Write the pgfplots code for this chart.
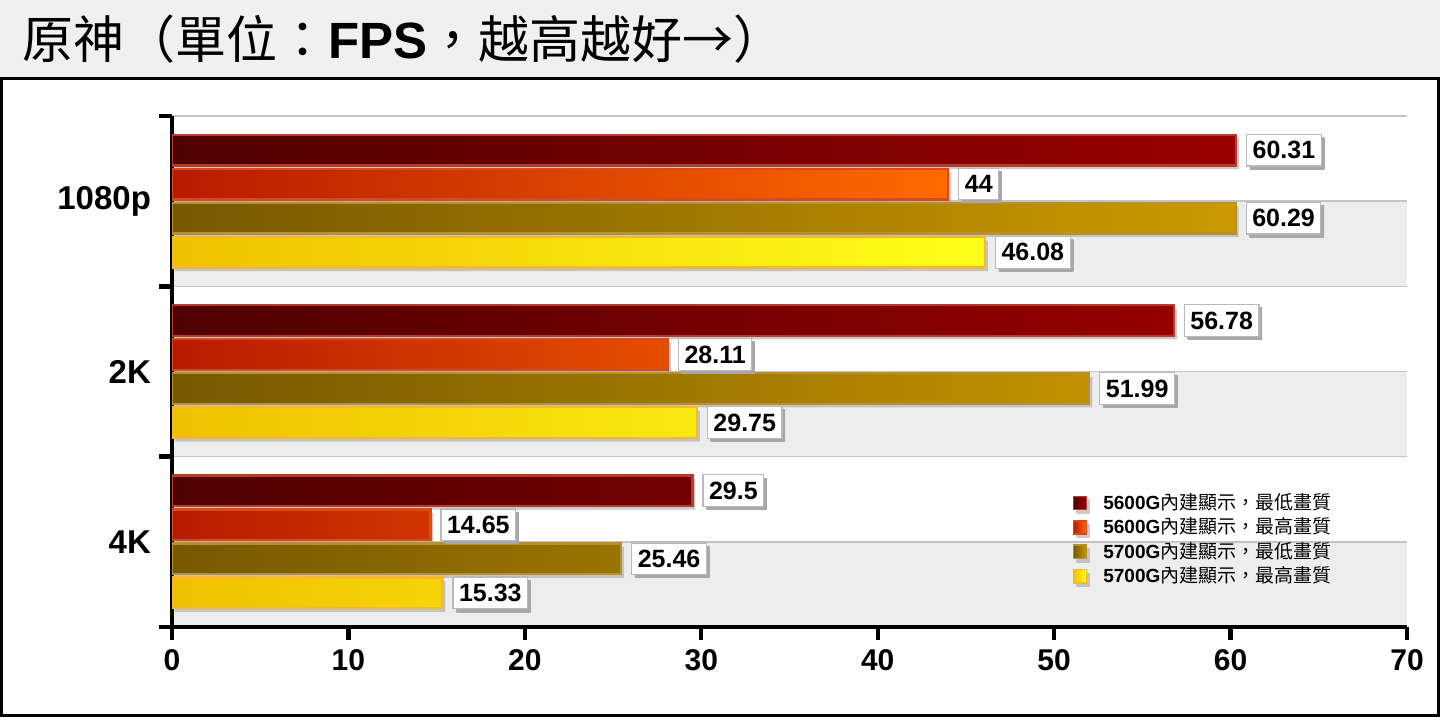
\documentclass[border=0pt]{standalone}
\usepackage{fontspec}
\setmainfont{Liberation Sans}
\newfontfamily\cjk{Noto Sans CJK TC}
\usepackage{pgfplots}
\pgfplotsset{compat=1.18}

\definecolor{titlebg}{HTML}{F0F0F0}
\definecolor{bandgray}{HTML}{EDEDED}
\definecolor{gridgray}{HTML}{C4C4C4}
\definecolor{shadowgray}{HTML}{A8A8A8}
\definecolor{sAL}{HTML}{4E0000}
\definecolor{sAR}{HTML}{9A0000}
\definecolor{sAD}{HTML}{B83A2A}
\definecolor{sBL}{HTML}{B81A00}
\definecolor{sBR}{HTML}{FF6A00}
\definecolor{sBD}{HTML}{D84A1A}
\definecolor{sCL}{HTML}{765800}
\definecolor{sCR}{HTML}{CC9A00}
\definecolor{sCD}{HTML}{B89030}
\definecolor{sDL}{HTML}{F0C000}
\definecolor{sDR}{HTML}{FFFF1A}
\definecolor{sDD}{HTML}{F5B830}

\begin{document}
\begin{tikzpicture}
\useasboundingbox (0,0) rectangle (720pt,360pt);
\fill[white] (0,0) rectangle (720pt,360pt);
\fill[titlebg] (0,321pt) rectangle (720pt,360pt);
\draw[line width=1.5pt] (0.75pt,2.5pt) rectangle (719.25pt,321pt);
\node[anchor=base west, inner sep=0pt, font=\fontsize{25.5}{29}\selectfont]
  at (11pt,331pt) {\cjk 原神（單位：{\rmfamily\bfseries FPS}，越高越好→）};
% alternating bands and grid lines behind the plot area (half a category = 42.583pt)
\fill[bandgray] (86pt,46.5pt) rectangle (703.5pt,89.083pt);
\fill[bandgray] (86pt,131.667pt) rectangle (703.5pt,174.25pt);
\fill[bandgray] (86pt,216.833pt) rectangle (703.5pt,259.417pt);
\foreach \g in {89.083,131.667,174.25,216.833,259.417,302}
  \draw[gridgray, line width=0.75pt] (86pt,\g pt) -- (703.5pt,\g pt);

\begin{axis}[
  at={(86pt,46.5pt)}, anchor=south west,
  scale only axis, width=617.5pt, height=255.5pt,
  xbar, bar width=0.18,
  xmin=0, xmax=70, ymin=-0.5, ymax=2.5,
  xtick={0,10,...,70},
  xticklabel style={yshift=-1pt},
  ytick={-0.5,0.5,1.5,2.5}, yticklabels={},
  extra y ticks={0,1,2}, extra y tick labels={4K,2K,1080p},
  extra y tick style={major tick length=0pt,
    yticklabel style={xshift=-7pt, font=\fontsize{16.5}{19}\selectfont\bfseries}},
  axis x line=bottom, axis y line=left,
  axis line style={-, line width=2.2pt},
  tick align=outside, major tick length=6.5pt,
  every tick/.style={black, line width=2.2pt},
  ticklabel style={font=\fontsize{15}{18}\selectfont\bfseries},
  /pgf/number format/assume math mode=true,
  bar shadow/.style={preaction={left color=shadowgray, right color=shadowgray,
    draw=none, fill opacity=0.6, transform canvas={xshift=1.5pt, yshift=-1.8pt}}},
  nodes near coords,
  every node near coord/.append style={anchor=west, xshift=5pt, fill=white,
    draw=gray!55, line width=0.6pt, text=black, inner xsep=3pt, inner ysep=3.5pt,
    font=\fontsize{12.5}{14}\selectfont\bfseries,
    preaction={left color=shadowgray, right color=shadowgray, draw=none,
      transform canvas={xshift=1.6pt, yshift=-1.6pt}}},
  legend style={at={(0.729,0.27)}, anchor=north west, draw=none, fill=none,
    font=\fontsize{9.5}{11}\selectfont, row sep=-1.3pt, inner sep=0pt,
    /tikz/every odd column/.append style={column sep=6pt}},
  legend cell align=left,
  legend image code/.code={\draw[#1, line width=0.8pt] (0pt,-3.3pt) rectangle (6.5pt,3.3pt);},
]
\addplot[bar shift=0.3, left color=sAL, right color=sAR, draw=sAD, line width=1.2pt, bar shadow]
  coordinates {(60.31,2) (56.78,1) (29.5,0)};
\addlegendentry{{\bfseries 5600G}{\cjk 內建顯示，最低畫質}}
\addplot[bar shift=0.1, left color=sBL, right color=sBR, draw=sBD, line width=1.2pt, bar shadow]
  coordinates {(44,2) (28.11,1) (14.65,0)};
\addlegendentry{{\bfseries 5600G}{\cjk 內建顯示，最高畫質}}
\addplot[bar shift=-0.1, left color=sCL, right color=sCR, draw=sCD, line width=1.2pt, bar shadow]
  coordinates {(60.29,2) (51.99,1) (25.46,0)};
\addlegendentry{{\bfseries 5700G}{\cjk 內建顯示，最低畫質}}
\addplot[bar shift=-0.3, left color=sDL, right color=sDR, draw=sDD, line width=1.2pt, bar shadow]
  coordinates {(46.08,2) (29.75,1) (15.33,0)};
\addlegendentry{{\bfseries 5700G}{\cjk 內建顯示，最高畫質}}
\end{axis}
\end{tikzpicture}
\end{document}
